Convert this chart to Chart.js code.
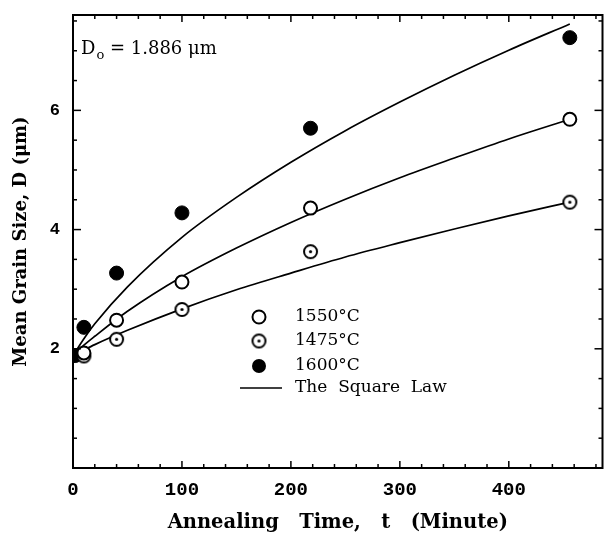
<!DOCTYPE html>
<html><head><meta charset="utf-8">
<script src="https://cdn.jsdelivr.net/npm/chart.js@4/dist/chart.umd.min.js"></script>
<style>html,body{margin:0;padding:0;background:#fff}#wrap{width:611px;height:537px}</style>
</head><body><div id="wrap"><canvas id="c" width="611" height="537"></canvas></div>
<script>
// ---- data ----
const xTickLabels = [0, 100, 200, 300, 400];
const yTickLabels = [2, 4, 6];
const seriesNames = ['1550°C', '1475°C', '1600°C', 'The  Square  Law'];
const times = [10, 40, 100, 218, 456];
const d1550 = [1.93, 2.48, 3.12, 4.36, 5.85];
const d1475 = [1.88, 2.16, 2.66, 3.63, 4.46];
const times1600 = [2, 10, 40, 100, 218, 456];
const d1600 = [1.886, 2.36, 3.27, 4.28, 5.70, 7.22];
const lawT = [0, 10, 20, 50, 100, 150, 200, 250, 300, 350, 400, 456];
const law1600 = [1.886, 2.17, 2.42, 3.04, 3.87, 4.54, 5.13, 5.66, 6.14, 6.59, 7.01, 7.45];
const law1550 = [1.886, 2.06, 2.21, 2.63, 3.21, 3.69, 4.12, 4.51, 4.87, 5.20, 5.52, 5.85];
const law1475 = [1.886, 1.98, 2.07, 2.31, 2.67, 2.99, 3.27, 3.54, 3.78, 4.01, 4.23, 4.46];
const annotation = ['D', 'o', ' = 1.886 μm'];

const pts = (xs, ys) => xs.map((x, i) => ({x, y: ys[i]}));

function dotCircle(r) {
  const c = document.createElement('canvas');
  const s = Math.ceil(2 * r + 4);
  c.width = s; c.height = s;
  const g = c.getContext('2d');
  g.fillStyle = '#fff'; g.strokeStyle = '#000'; g.lineWidth = 2;
  g.beginPath(); g.arc(s / 2, s / 2, r, 0, Math.PI * 2); g.fill(); g.stroke();
  g.fillStyle = '#000';
  g.beginPath(); g.arc(s / 2, s / 2, 1.6, 0, Math.PI * 2); g.fill();
  return c;
}
const dotImg = dotCircle(6.5);

const lineDs = (data) => ({
  type: 'line', data: pts(lawT, data), borderColor: '#000', borderWidth: 1.7,
  pointRadius: 0, cubicInterpolationMode: 'monotone', fill: false, order: 5
});

const frame = {
  id: 'frame',
  afterDraw(chart) {
    const {ctx, chartArea: a, scales: {x, y}} = chart;
    ctx.save();
    ctx.strokeStyle = '#000';
    ctx.lineWidth = 1.5;
    const seg = (x1, y1, x2, y2) => { ctx.beginPath(); ctx.moveTo(x1, y1); ctx.lineTo(x2, y2); ctx.stroke(); };
    for (let v = 20; v <= x.max; v += 20) {
      const p = x.getPixelForValue(v);
      const L = (v % 100 === 0) ? 7 : 4;
      seg(p, a.bottom, p, a.bottom - L);
      seg(p, a.top, p, a.top + L);
    }
    for (let v = 0.5; v <= y.max; v += 0.5) {
      const p = y.getPixelForValue(v);
      const L = (Math.abs(v % 2) < 1e-6) ? 8 : 4;
      seg(a.left, p, a.left + L, p);
      seg(a.right, p, a.right - L, p);
    }
    ctx.lineWidth = 2;
    ctx.strokeRect(a.left, a.top, a.right - a.left, a.bottom - a.top);

    // annotation D0
    ctx.fillStyle = '#000';
    ctx.textBaseline = 'alphabetic';
    ctx.font = '18px "DejaVu Serif"';
    let tx = a.left + 8, ty = a.top + 39;
    ctx.fillText(annotation[0], tx, ty);
    tx += ctx.measureText(annotation[0]).width;
    ctx.font = '13px "DejaVu Serif"';
    ctx.fillText(annotation[1], tx + 1, ty + 5);
    tx += ctx.measureText(annotation[1]).width + 1;
    ctx.font = '18px "DejaVu Serif"';
    ctx.fillText(annotation[2], tx, ty);

    // legend
    const lx = a.left + 186, tx2 = a.left + 222;
    const rows = [a.top + 302, a.top + 326, a.top + 351, a.top + 373];
    ctx.font = '17px "DejaVu Serif"';
    ctx.textBaseline = 'middle';
    ctx.lineWidth = 2;
    ctx.fillStyle = '#fff';
    ctx.beginPath(); ctx.arc(lx, rows[0], 6.5, 0, Math.PI * 2); ctx.fill(); ctx.stroke();
    ctx.drawImage(dotImg, lx - dotImg.width / 2, rows[1] - dotImg.height / 2);
    ctx.fillStyle = '#000';
    ctx.beginPath(); ctx.arc(lx, rows[2], 7, 0, Math.PI * 2); ctx.fill();
    ctx.lineWidth = 1.7;
    seg(a.left + 167, rows[3], a.left + 209, rows[3]);
    ctx.fillStyle = '#000';
    for (let i = 0; i < 4; i++) ctx.fillText(seriesNames[i], tx2, rows[i]);
    ctx.restore();
  }
};

new Chart(document.getElementById('c'), {
  type: 'scatter',
  data: {
    datasets: [
      lineDs(law1600), lineDs(law1550), lineDs(law1475),
      {label: seriesNames[0], data: pts(times, d1550), pointStyle: 'circle', pointRadius: 6.5,
       pointBackgroundColor: '#fff', pointBorderColor: '#000', pointBorderWidth: 2, showLine: false, order: 1},
      {label: seriesNames[1], data: pts(times, d1475), pointStyle: dotImg, pointRadius: 6.5,
       showLine: false, order: 2},
      {label: seriesNames[2], data: pts(times1600, d1600), pointStyle: 'circle', pointRadius: 7,
       pointBackgroundColor: '#000', pointBorderColor: '#000', pointBorderWidth: 1, showLine: false,
       clip: {left: 0, top: false, right: false, bottom: false}, order: 3}
    ]
  },
  options: {
    responsive: false, animation: false, devicePixelRatio: 1,
    layout: {padding: {top: 15, right: 6, left: 0, bottom: 0}},
    plugins: {legend: {display: false}, tooltip: {enabled: false}},
    scales: {
      x: {
        type: 'linear', min: 0, max: 486,
        afterBuildTicks: s => { s.ticks = xTickLabels.map(v => ({value: v})); },
        afterFit: s => { s.height = 69; s.paddingLeft = 0; s.paddingRight = 0; },
        ticks: {font: {family: 'Liberation Mono', size: 19, weight: 'bold'}, color: '#000',
                padding: 11, maxRotation: 0, autoSkip: false},
        grid: {display: false, drawTicks: false}, border: {display: false},
        title: {display: true, text: 'Annealing   Time,   t   (Minute)', color: '#000',
                font: {family: 'DejaVu Serif', size: 19.5, weight: 'bold'}, padding: {top: 0, bottom: 2}}
      },
      y: {
        type: 'linear', min: 0, max: 7.6,
        afterBuildTicks: s => { s.ticks = yTickLabels.map(v => ({value: v})); },
        afterFit: s => { s.width = 73; s.paddingTop = 0; s.paddingBottom = 0; },
        ticks: {font: {family: 'Liberation Mono', size: 17, weight: 'bold'}, color: '#000', padding: 13},
        grid: {display: false, drawTicks: false}, border: {display: false},
        title: {display: true, text: 'Mean Grain Size, D (μm)', color: '#000',
                font: {family: 'DejaVu Serif', size: 18, weight: 'bold'}, padding: {top: 11, bottom: 0}}
      }
    }
  },
  plugins: [frame]
});
</script></body></html>
